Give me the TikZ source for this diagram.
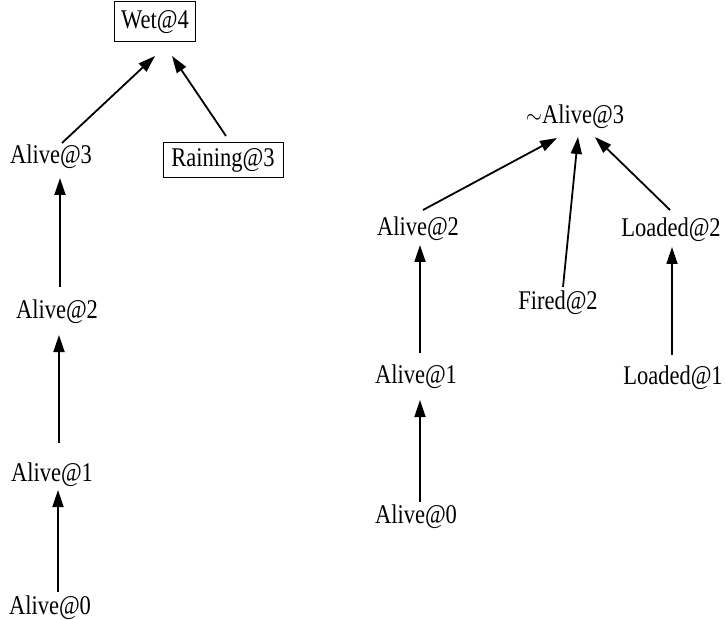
\documentclass[tikz,border=0pt]{standalone}
\usepackage{fontspec}
\setmainfont{Liberation Serif}
\usetikzlibrary{arrows.meta}
\newcommand{\Tx}[1]{\scalebox{1}[1.2]{#1}}
\tikzset{
  lbl/.style={inner sep=0pt, font=\fontsize{22.5}{26}\selectfont},
  boxed/.style={lbl, draw, line width=1pt, inner xsep=6pt},
  arr/.style={line width=1.8pt, -{Triangle[length=17pt,width=11pt]}}
}
\begin{document}
\begin{tikzpicture}[x=1pt,y=-1pt]
\useasboundingbox (0,0) rectangle (725,620);
% left tree
\node[boxed, minimum height=40pt, minimum width=81pt] (wet) at (155,22) {\Tx{Wet@4}};
\node[lbl] (a3) at (51,157) {\Tx{Alive@3}};
\node[boxed, minimum height=35pt, minimum width=120pt] (rain) at (223,160) {\Tx{Raining@3}};
\node[lbl] (a2l) at (57,312) {\Tx{Alive@2}};
\node[lbl] (a1l) at (52,475) {\Tx{Alive@1}};
\node[lbl] (a0l) at (50,608) {\Tx{Alive@0}};
\draw[arr] ([shift={(11,-14)}]a3.center) -- ([shift={(0,34)}]wet.center);
\draw[arr] ([shift={(3,-24)}]rain.center) -- ([shift={(17,34)}]wet.center);
\draw[arr] ([shift={(3,-25)}]a2l.center) -- ([shift={(9,21)}]a3.center);
\draw[arr] ([shift={(7,-32)}]a1l.center) -- ([shift={(2,23)}]a2l.center);
\draw[arr] ([shift={(8,-16)}]a0l.center) -- ([shift={(6,15)}]a1l.center);
% right tree
\node[lbl] (na3) at (575,117) {\Tx{$\sim$Alive@3}};
\node[lbl] (a2r) at (418,229) {\Tx{Alive@2}};
\node[lbl] (f2) at (558,303) {\Tx{Fired@2}};
\node[lbl] (l2) at (671,230) {\Tx{Loaded@2}};
\node[lbl] (a1r) at (416,377) {\Tx{Alive@1}};
\node[lbl] (l1) at (673,378) {\Tx{Loaded@1}};
\node[lbl] (a0r) at (416,517) {\Tx{Alive@0}};
\draw[arr] ([shift={(5,-19)}]a2r.center) -- ([shift={(-18,21)}]na3.center);
\draw[arr] ([shift={(5,-16)}]f2.center) -- ([shift={(3,20)}]na3.center);
\draw[arr] ([shift={(-1,-20)}]l2.center) -- ([shift={(20,20)}]na3.center);
\draw[arr] ([shift={(4,-24)}]a1r.center) -- ([shift={(2,16)}]a2r.center);
\draw[arr] ([shift={(-1,-23)}]l1.center) -- ([shift={(1,17)}]l2.center);
\draw[arr] ([shift={(4,-15)}]a0r.center) -- ([shift={(4,23)}]a1r.center);
\end{tikzpicture}
\end{document}
